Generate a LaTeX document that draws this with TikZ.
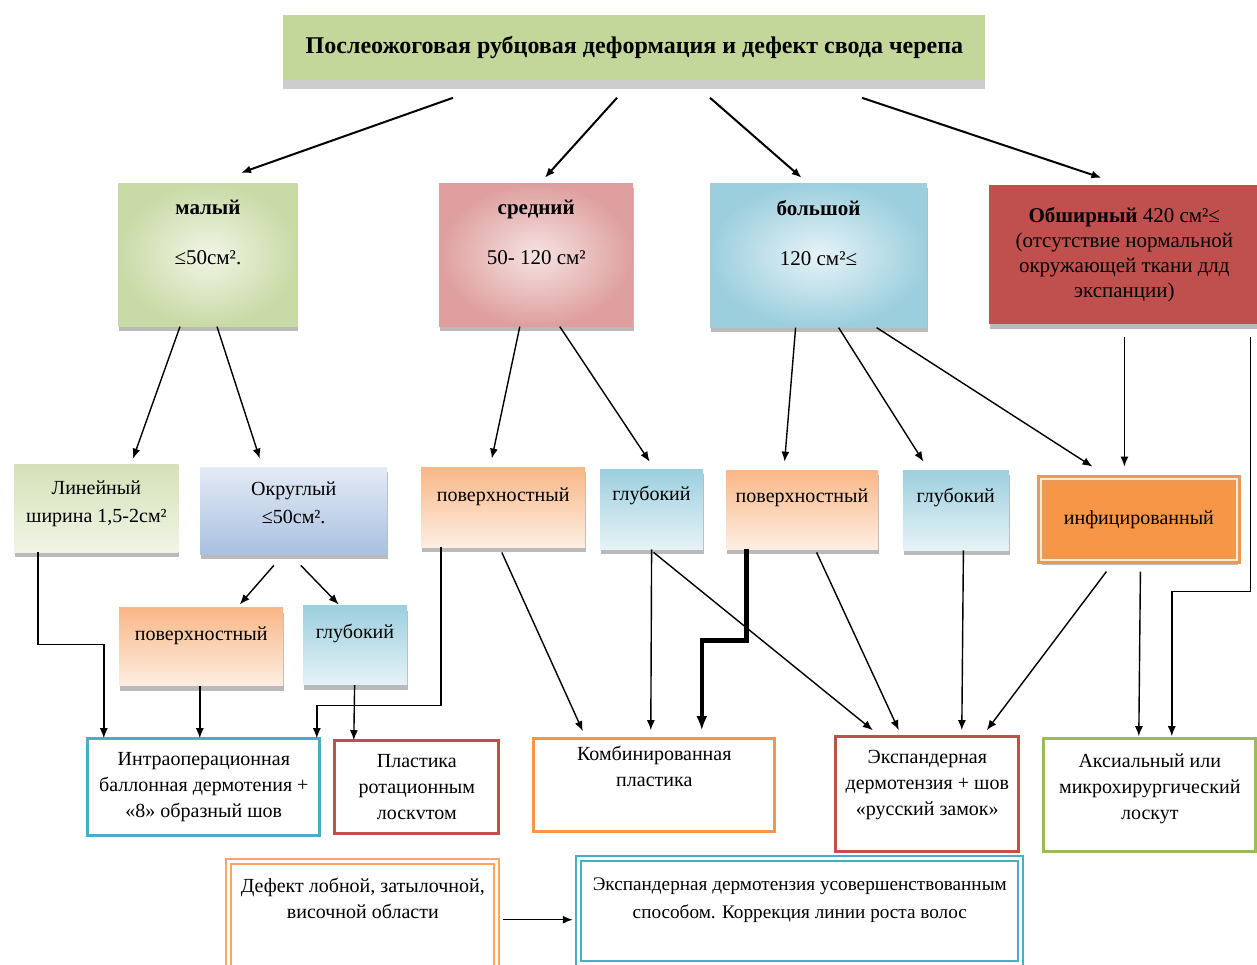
\documentclass[tikz,border=0pt]{standalone}
\usepackage{fontspec}
\setmainfont{Liberation Serif}
\usepackage{xcolor}
\usepackage{tikz}
\usetikzlibrary{positioning, arrows.meta, shadows}
\definecolor{titleGreen}{HTML}{C4D79B}
\definecolor{smallGreen}{HTML}{C9DAA6}
\definecolor{paleGreen}{HTML}{F1F5E6}
\definecolor{midRose}{HTML}{DE9F9E}
\definecolor{paleRose}{HTML}{F6E3E3}
\definecolor{skyBlue}{HTML}{9CCFDE}
\definecolor{paleSky}{HTML}{E6F3F7}
\definecolor{vastRed}{HTML}{C0504D}
\definecolor{roundBlue}{HTML}{A9C1E0}
\definecolor{paleBlue}{HTML}{E4EBF5}
\definecolor{peach}{HTML}{F9B787}
\definecolor{palePeach}{HTML}{FDEEE2}
\definecolor{infOrange}{HTML}{F79646}
\definecolor{infEdge}{HTML}{E99A59}
\definecolor{cream}{HTML}{FCEBC8}
\definecolor{tealLine}{HTML}{4BACC6}
\definecolor{leafGreen}{HTML}{9BBB59}
\tikzset{
    boxshadow/.style={drop shadow={shadow xshift=0.5pt, shadow yshift=-2.5pt, fill=black!45, opacity=0.6}},
    rootbox/.style={rectangle, fill=titleGreen, inner sep=0pt, minimum width=351pt, minimum height=32.5pt, font=\fontsize{12}{14}\selectfont\bfseries, drop shadow={shadow xshift=0pt, shadow yshift=-4.5pt, fill=black!40, opacity=0.5}},
    sizebox/.style={rectangle, align=center, inner sep=0pt, font=\fontsize{10.5}{12.5}\selectfont, boxshadow},
    kindbox/.style={rectangle, align=center, inner sep=0pt, font=\fontsize{10}{14}\selectfont, boxshadow},
    supbox/.style={kindbox, top color=peach, bottom color=palePeach},
    deepbox/.style={kindbox, top color=skyBlue, bottom color=paleSky},
    methodbox/.style={rectangle, draw, line width=1.5pt, fill=white, align=center, inner sep=0pt, outer sep=0pt, font=\fontsize{10}{13}\selectfont},
    arrow/.style={-{Latex[length=5pt, width=4pt]}, line width=0.7pt},
    boldarrow/.style={-{Latex[length=7pt, width=5.5pt]}, line width=2.2pt}
}
\begin{document}
\begin{tikzpicture}
    \useasboundingbox (0,0) rectangle (628.5pt,-482pt);

    % Root
    \node[rootbox, anchor=north west] (Root) at (141.5pt,-7.5pt) {Послеожоговая рубцовая деформация и дефект свода черепа};

    % Size of defect
    \node[sizebox, inner color=paleGreen, outer color=smallGreen, minimum width=89.5pt, minimum height=71.5pt, text depth=22pt, below right=51pt and -82.5pt of Root.south west] (Small) {\textbf{малый}\\[12.5pt]≤50см².};
    \node[sizebox, inner color=paleRose, outer color=midRose, minimum width=97pt, minimum height=71.5pt, text depth=22pt, right=70.5pt of Small.north east, anchor=north west] (Medium) {\textbf{средний}\\[12.5pt]50- 120 см²};
    \node[sizebox, inner color=paleSky, outer color=skyBlue, minimum width=108.5pt, minimum height=72pt, text depth=22pt, right=38pt of Medium.north east, anchor=north west] (Large) {\textbf{большой}\\[12.5pt]120 см²≤};
    \node[sizebox, fill=vastRed, minimum width=135.5pt, minimum height=69.5pt, right=30.5pt of Large.north east, anchor=north west, yshift=-1pt] (Vast) {\textbf{Обширный} 420 см²≤\\(отсутствие нормальной\\окружающей ткани длд\\экспанции)};

    % Kind of defect
    \node[kindbox, top color=smallGreen!80, bottom color=paleGreen, minimum width=82pt, minimum height=44pt, text depth=6.5pt, below right=68.5pt and -52pt of Small.south west] (Linear) {Линейный\\ширина 1,5-2см²};
    \node[kindbox, top color=paleBlue, bottom color=roundBlue, minimum width=93.5pt, minimum height=43.5pt, text depth=7.5pt, right=10.5pt of Linear.north east, anchor=north west, yshift=-1.5pt] (Round) {Округлый\\≤50см².};
    \node[supbox, minimum width=82pt, minimum height=40pt, text depth=12pt, below right=70pt and -9pt of Medium.south west] (SupMid) {поверхностный};
    \node[deepbox, minimum width=51.5pt, minimum height=40pt, text depth=16pt, right=7pt of SupMid.north east, anchor=north west, yshift=-1pt] (DeepMid) {глубокий};
    \node[supbox, minimum width=76pt, minimum height=39.5pt, text depth=14pt, below right=71pt and 8pt of Large.south west] (SupLarge) {поверхностный};
    \node[deepbox, minimum width=53pt, minimum height=40pt, text depth=15pt, right=12pt of SupLarge.north east, anchor=north west] (DeepLarge) {глубокий};
    \node[kindbox, fill=infOrange, draw=infEdge, line width=1.5pt, double=cream, double distance=1pt, minimum width=98pt, minimum height=40.5pt, below right=76.5pt and 25.5pt of Vast.south west] (Infected) {инфицированный};
    \node[supbox, minimum width=82pt, minimum height=39pt, text depth=13pt, below right=26.5pt and -40.5pt of Round.south west] (SupSmall) {поверхностный};
    \node[deepbox, minimum width=52pt, minimum height=39.5pt, text depth=14pt, right=9.5pt of SupSmall.north east, anchor=north west, yshift=1pt] (DeepSmall) {глубокий};

    % Methods
    \node[methodbox, draw=tealLine, minimum width=116pt, minimum height=48.5pt, below right=26pt and -15.5pt of SupSmall.south west] (Intra) {Интраоперационная\\баллонная дермотения +\\«8» образный шов};
    \node[methodbox, draw=vastRed, minimum width=82pt, minimum height=46.5pt, right=7.5pt of Intra.north east, anchor=north west, yshift=-1pt] (Rotation) {Пластика\\ротационным\\лоскvтом};
    \node[methodbox, draw=infOrange, minimum width=120.5pt, minimum height=46.5pt, text depth=18pt, right=17.5pt of Rotation.north east, anchor=north west, yshift=1pt] (Combined) {Комбинированная\\пластика};
    \node[methodbox, draw=vastRed, minimum width=91.5pt, minimum height=57.5pt, text depth=11pt, right=30.5pt of Combined.north east, anchor=north west, yshift=1pt] (Expander) {Экспандерная\\дермотензия + шов\\«русский замок»};
    \node[methodbox, draw=leafGreen, minimum width=106pt, minimum height=56.5pt, text depth=8pt, right=12.5pt of Expander.north east, anchor=north west, yshift=-1pt] (Axial) {Аксиальный или\\микрохирургический\\лоскут};
    \node[methodbox, draw=infOrange!85, line width=1pt, double=white, double distance=1.5pt, minimum width=134pt, minimum height=58.5pt, text depth=21pt, below right=13pt and 70.5pt of Intra.south west] (Defect) {Дефект лобной, затылочной,\\височной области};
    \node[methodbox, draw=tealLine, line width=1pt, double=white, double distance=1.5pt, minimum width=221pt, minimum height=52.5pt, text depth=13pt, font=\fontsize{9.6}{14}\selectfont, right=41pt of Defect.north east, anchor=north west, yshift=1.5pt] (Improved) {Экспандерная дермотензия усовершенствованным\\способом. Коррекция линии роста волос};

    % Arrows
    \draw[arrow, line width=1pt] ([xshift=85pt, yshift=-8.5pt]Root.south west) -- ([xshift=61.5pt, yshift=5pt]Small.north west);
    \draw[arrow, line width=1pt] ([xshift=167pt, yshift=-8.5pt]Root.south west) -- ([xshift=53pt, yshift=2.5pt]Medium.north west);
    \draw[arrow, line width=1pt] ([xshift=213.5pt, yshift=-8.5pt]Root.south west) -- ([xshift=46pt, yshift=2.5pt]Large.north west);
    \draw[arrow, line width=1pt] ([xshift=289.5pt, yshift=-8.5pt]Root.south west) -- ([xshift=56.5pt, yshift=3.5pt]Vast.north west);

    \draw[arrow] ([xshift=31pt]Small.south west) -- ([xshift=59.5pt, yshift=2.5pt]Linear.north west);
    \draw[arrow] ([xshift=49.5pt]Small.south west) -- ([xshift=30pt, yshift=4pt]Round.north west);
    \draw[arrow] ([xshift=40.5pt]Medium.south west) -- ([xshift=35.5pt, yshift=4pt]SupMid.north west);
    \draw[arrow] ([xshift=60.5pt]Medium.south west) -- ([xshift=25pt, yshift=3.5pt]DeepMid.north west);
    \draw[arrow] ([xshift=43pt]Large.south west) -- ([xshift=29.5pt, yshift=4pt]SupLarge.north west);
    \draw[arrow] ([xshift=64.5pt]Large.south west) -- ([xshift=10.5pt, yshift=4pt]DeepLarge.north west);
    \draw[arrow] ([xshift=83.5pt]Large.south west) -- ([xshift=26.5pt, yshift=5.5pt]Infected.north west);
    \draw[arrow] ([xshift=68pt, yshift=-6pt]Vast.south west) -- ([xshift=42.5pt, yshift=5.5pt]Infected.north west);
    \draw[arrow] ([xshift=131pt, yshift=-6pt]Vast.south west) -- ++(0,-127.5pt) -| ([xshift=64pt, yshift=1pt]Axial.north west);

    \draw[arrow] ([xshift=37pt, yshift=-5.5pt]Round.south west) -- ([xshift=60.5pt, yshift=1.5pt]SupSmall.north west);
    \draw[arrow] ([xshift=50.5pt, yshift=-5.5pt]Round.south west) -- ([xshift=18pt, yshift=0.5pt]DeepSmall.north west);

    \draw[arrow] ([xshift=12pt]Linear.south west) -- ++(0,-46pt) -| ([xshift=8pt]Intra.north west);
    \draw[arrow] ([xshift=40.5pt]SupSmall.south west) -- ([xshift=56pt]Intra.north west);
    \draw[arrow] ([xshift=10pt]SupMid.south west) -- ++(0,-79pt) -| ([xshift=114.5pt]Intra.north west);
    \draw[arrow] ([xshift=26pt]DeepSmall.south west) -- ([xshift=9.5pt]Rotation.north west);
    \draw[arrow] ([xshift=40.5pt, yshift=-2.5pt]SupMid.south west) -- ([xshift=24.5pt, yshift=3.5pt]Combined.north west);
    \draw[arrow] ([xshift=26pt]DeepMid.south west) -- ([xshift=58.5pt, yshift=4pt]Combined.north west);
    \draw[arrow] ([xshift=27pt, yshift=-1.5pt]DeepMid.south west) -- ([xshift=18.5pt, yshift=3pt]Expander.north west);
    \draw[boldarrow] ([xshift=10.5pt]SupLarge.south west) -- ++(0,-45.5pt) -| ([xshift=84pt, yshift=4pt]Combined.north west);
    \draw[arrow] ([xshift=45.5pt, yshift=-1.5pt]SupLarge.south west) -- ([xshift=31.5pt, yshift=3pt]Expander.north west);
    \draw[arrow] ([xshift=30.5pt]DeepLarge.south west) -- ([xshift=63pt, yshift=3pt]Expander.north west);
    \draw[arrow] ([xshift=33.5pt, yshift=-5pt]Infected.south west) -- ([xshift=75.5pt, yshift=3pt]Expander.north west);
    \draw[arrow] ([xshift=50.5pt, yshift=-5pt]Infected.south west) -- ([xshift=47.5pt, yshift=1pt]Axial.north west);

    \draw[arrow, shorten <=3pt, shorten >=3pt] (Defect.east) -- (Defect.east -| Improved.west);
\end{tikzpicture}
\end{document}
